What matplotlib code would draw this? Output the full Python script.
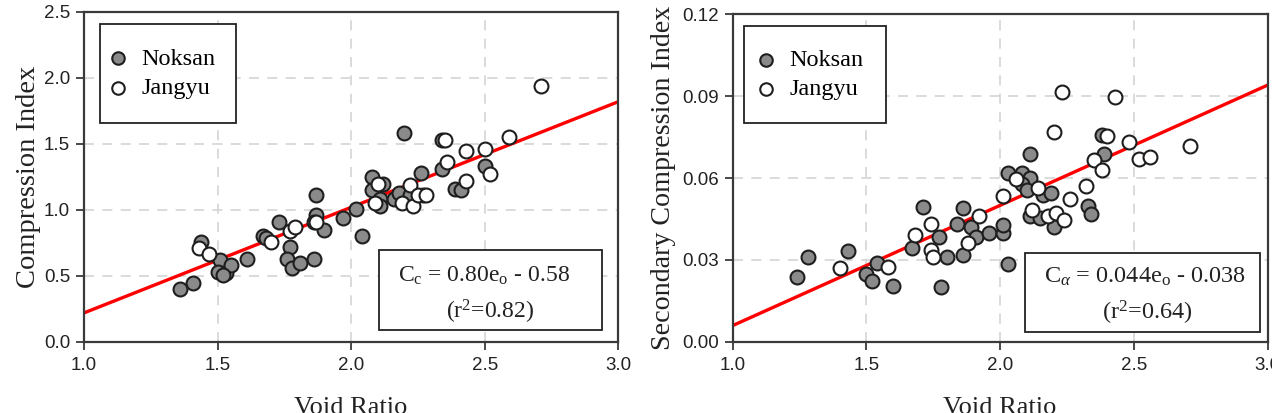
import matplotlib
matplotlib.use("Agg")
import matplotlib.pyplot as plt
from matplotlib.patches import Rectangle
import numpy as np

# ---------------- data ----------------
cc_noksan_x = [1.36, 1.41, 1.44, 1.51, 1.50, 1.53, 1.55, 1.52, 1.61, 1.67, 1.68, 1.73, 1.77, 1.76, 1.78,
               1.81, 1.86, 1.87, 1.87, 1.86, 1.90, 1.97, 2.02, 2.04, 2.08, 2.08, 2.11, 2.11, 2.12,
               2.16, 2.18, 2.22, 2.20, 2.26, 2.27, 2.34, 2.34, 2.39, 2.41, 2.50]
cc_noksan_y = [0.40, 0.45, 0.76, 0.62, 0.53, 0.52, 0.58, 0.51, 0.63, 0.80, 0.79, 0.91, 0.72, 0.63, 0.56,
               0.60, 0.63, 1.11, 0.96, 0.91, 0.85, 0.94, 1.01, 0.80, 1.25, 1.15, 1.08, 1.03, 1.20,
               1.08, 1.13, 1.11, 1.58, 1.28, 1.11, 1.53, 1.31, 1.16, 1.15, 1.33]
cc_jangyu_x = [1.43, 1.47, 1.70, 1.77, 1.79, 1.87, 2.10, 2.09, 2.19, 2.22, 2.23, 2.25, 2.28,
               2.35, 2.36, 2.43, 2.43, 2.50, 2.52, 2.59, 2.71]
cc_jangyu_y = [0.71, 0.67, 0.76, 0.84, 0.87, 0.91, 1.20, 1.05, 1.05, 1.19, 1.03, 1.11, 1.11,
               1.53, 1.36, 1.22, 1.45, 1.46, 1.27, 1.55, 1.94]

ca_noksan_x = [1.24, 1.28, 1.43, 1.50, 1.52, 1.54, 1.60, 1.67, 1.71, 1.77, 1.78, 1.80, 1.84, 1.86,
               1.86, 1.89, 1.91, 1.96, 2.01, 2.01, 2.03, 2.03, 2.08, 2.11, 2.11, 2.08, 2.10, 2.16,
               2.19, 2.11, 2.15, 2.20, 2.33, 2.34, 2.39, 2.38]
ca_noksan_y = [0.0239, 0.0310, 0.0334, 0.0249, 0.0224, 0.0290, 0.0205, 0.0343, 0.0493, 0.0385,
               0.0200, 0.0312, 0.0432, 0.0318, 0.0489, 0.0422, 0.0385, 0.0400, 0.0400, 0.0428,
               0.0285, 0.0620, 0.0620, 0.0600, 0.0688, 0.0578, 0.0556, 0.0538, 0.0544, 0.0461,
               0.0452, 0.0422, 0.0498, 0.0468, 0.0688, 0.0757]
ca_jangyu_x = [1.40, 1.58, 1.68, 1.74, 1.74, 1.75, 1.88, 1.92, 2.01, 2.06, 2.14, 2.12, 2.18, 2.21,
               2.24, 2.26, 2.20, 2.23, 2.32, 2.35, 2.38, 2.40, 2.43, 2.48, 2.52, 2.56, 2.71]
ca_jangyu_y = [0.0270, 0.0276, 0.0391, 0.0432, 0.0337, 0.0310, 0.0361, 0.0461, 0.0534, 0.0595,
               0.0562, 0.0483, 0.0461, 0.0473, 0.0446, 0.0522, 0.0769, 0.0916, 0.0571, 0.0666,
               0.0629, 0.0754, 0.0895, 0.0733, 0.0668, 0.0678, 0.0717]

cc_fit = (0.80, -0.58)
ca_fit = (0.044, -0.038)
fit_x = [1.0, 3.0]

x_ticks = [1.0, 1.5, 2.0, 2.5, 3.0]
cc_yticks = [0.0, 0.5, 1.0, 1.5, 2.0, 2.5]
ca_yticks = [0.00, 0.03, 0.06, 0.09, 0.12]

series_labels = ["Noksan", "Jangyu"]

# ---------------- style ----------------
plt.rcParams['mathtext.fontset'] = 'custom'
plt.rcParams['mathtext.rm'] = 'Liberation Serif'
plt.rcParams['mathtext.it'] = 'Liberation Serif:italic'
plt.rcParams['mathtext.sf'] = 'Liberation Serif'

SERIF = 'Liberation Serif'
SANS = 'Liberation Sans'
spine_col = '#3a3a3a'
gray_fill = '#8a8a8a'
edge_col = '#1e1e1e'
text_col = '#222222'

fig = plt.figure(figsize=(12.72, 4.13), dpi=100)
ax1 = fig.add_axes([0.066, 0.172, 0.420, 0.799])
ax2 = fig.add_axes([0.576, 0.172, 0.4206, 0.794])


def style_axes(ax, yticks, yfmt):
    ax.set_xlim(1.0, 3.0)
    ax.set_ylim(yticks[0], yticks[-1])
    ax.set_xticks(x_ticks)
    ax.set_xticklabels([f"{t:.1f}" for t in x_ticks])
    ax.set_yticks(yticks)
    ax.set_yticklabels([yfmt.format(t) for t in yticks])
    for lab in ax.get_xticklabels() + ax.get_yticklabels():
        lab.set_fontfamily(SANS)
        lab.set_fontsize(13.5)
        lab.set_color(text_col)
    ax.tick_params(axis='x', direction='out', length=6, width=1.3, color=spine_col, pad=5)
    ax.tick_params(axis='y', direction='out', length=6, width=1.3, color=spine_col, pad=4)
    for s in ax.spines.values():
        s.set_color(spine_col)
        s.set_linewidth(1.6)
    ax.grid(True, color='#d4d4d4', linestyle=(0, (6, 5)), linewidth=1.2)
    ax.set_axisbelow(True)


def draw(ax, nx, ny, jx, jy, fit, yticks, yfmt, ylabel, eq1, eq2,
         leg_box, leg_anchor, box, eqx, eq_size, ylab_x, ylab_size):
    style_axes(ax, yticks, yfmt)
    fy = [fit[0] * v + fit[1] for v in fit_x]
    ax.plot(fit_x, fy, color='#ff0000', linewidth=2.4, zorder=2, solid_capstyle='butt')
    ax.scatter(nx, ny, s=100, facecolor=gray_fill, edgecolor=edge_col, linewidth=1.5,
               zorder=3, label=series_labels[0])
    ax.scatter(jx, jy, s=100, facecolor='white', edgecolor=edge_col, linewidth=1.5,
               zorder=3, label=series_labels[1])
    # legend frame
    lx0, ly0, lx1, ly1 = leg_box
    ax.add_patch(Rectangle((lx0, ly1), lx1 - lx0, ly0 - ly1, transform=ax.transAxes,
                           facecolor='white', edgecolor=text_col, linewidth=1.3, zorder=4))
    leg = ax.legend(loc='center left', bbox_to_anchor=leg_anchor, borderaxespad=0,
                    borderpad=0, frameon=False,
                    prop={'family': SERIF, 'size': 17.5}, handletextpad=0.55,
                    labelspacing=0.3, handlelength=0.8, markerscale=0.9)
    leg.set_zorder(5)
    # equation box
    x0, y0, x1, y1 = box
    ax.add_patch(Rectangle((x0, y1), x1 - x0, y0 - y1, transform=ax.transAxes,
                           facecolor='white', edgecolor=text_col, linewidth=1.3, zorder=4))
    ax.text(eqx[0], 0.20, eq1, transform=ax.transAxes, ha='center', va='center',
            fontfamily=SERIF, fontsize=eq_size, zorder=5, color=text_col)
    ax.text(eqx[1], 0.09, eq2, transform=ax.transAxes, ha='center', va='center',
            fontfamily=SERIF, fontsize=eq_size, zorder=5, color=text_col)
    ax.set_ylabel(ylabel, fontfamily=SERIF, fontsize=ylab_size, color=text_col)
    ax.yaxis.set_label_coords(ylab_x, 0.5)
    ax.set_xlabel("Void Ratio", fontfamily=SERIF, fontsize=19, color=text_col)
    ax.xaxis.set_label_coords(0.5, -0.168)


draw(ax1, cc_noksan_x, cc_noksan_y, cc_jangyu_x, cc_jangyu_y, cc_fit, cc_yticks, "{:.1f}",
     "Compression Index",
     r"C$_\mathrm{c}$ = 0.80e$_\mathrm{o}$ - 0.58", r"(r$^\mathrm{2}$=0.82)",
     (0.030, 0.664, 0.285, 0.964), (0.046, 0.814),
     (0.552, 0.279, 0.970, 0.036), (0.749, 0.76), 17, -0.08, 20.5)

draw(ax2, ca_noksan_x, ca_noksan_y, ca_jangyu_x, ca_jangyu_y, ca_fit, ca_yticks, "{:.2f}",
     "Secondary Compression Index",
     r"C$_\alpha$ = 0.044e$_\mathrm{o}$ - 0.038", r"(r$^\mathrm{2}$=0.64)",
     (0.0206, 0.668, 0.286, 0.963), (0.044, 0.8155),
     (0.546, 0.271, 0.985, 0.030), (0.77, 0.775), 17.5, -0.105, 20.2)

fig.savefig("out.png", dpi=100)
